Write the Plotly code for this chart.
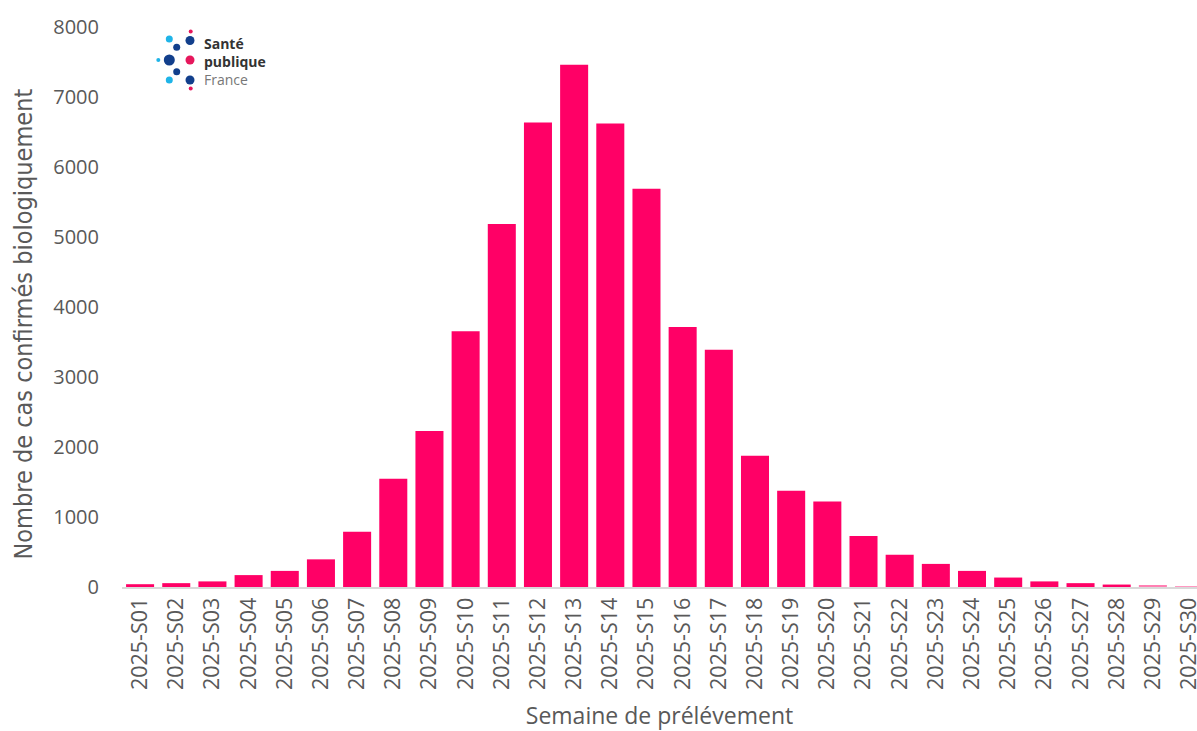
import plotly.graph_objects as go

weeks = [f"2025-S{i:02d}" for i in range(1, 31)]
cases = [40, 55, 80, 170, 230, 395, 790, 1545, 2230, 3655,
         5185, 6635, 7460, 6620, 5690, 3715, 3390, 1875, 1375, 1220,
         730, 460, 330, 230, 135, 80, 55, 35, 25, 10]
bar_colors = ["#FF0066"] * 28 + ["#FF80B3", "#FF99C2"]
y_ticks = [0, 1000, 2000, 3000, 4000, 5000, 6000, 7000, 8000]

W, H = 1197, 731
L, T, B = 122, 27, 144
TXT = "#595959"
PW, PH = W - L, H - T - B


def px_x(p):
    return (p - L) / PW


def px_y(p):
    return (H - B - p) / PH


fig = go.Figure()
fig.add_trace(go.Bar(x=weeks, y=cases, marker=dict(color=bar_colors, line=dict(width=0)),
                     showlegend=False, hoverinfo="x+y"))

# Santé publique France logo (decorative), in pixel coordinates on an overlay axis
logo_dots = [
    (190.7, 31.5, 4, "#E6175C"),
    (169.3, 39, 7, "#1FB4E8"),
    (190, 40.5, 9, "#123F8C"),
    (176.7, 47.3, 7, "#123F8C"),
    (158.3, 60, 4, "#1FB4E8"),
    (169.3, 60, 11, "#123F8C"),
    (190, 60, 9, "#E6175C"),
    (176.7, 71.7, 7, "#123F8C"),
    (169.3, 80, 7, "#1FB4E8"),
    (190, 80, 9, "#123F8C"),
    (190.7, 88.5, 4, "#E6175C"),
]
fig.add_trace(go.Scatter(
    x=[d[0] for d in logo_dots], y=[d[1] for d in logo_dots],
    mode="markers", xaxis="x2", yaxis="y2", hoverinfo="skip", showlegend=False,
    marker=dict(size=[d[2] for d in logo_dots], color=[d[3] for d in logo_dots],
                opacity=1, line=dict(width=0)),
    cliponaxis=False,
))
fig.add_annotation(
    x=px_x(202), y=px_y(61.5), xref="paper", yref="paper",
    text="<b>Santé</b><br><b>publique</b><br><span style='color:#777777'>France</span>",
    showarrow=False, xanchor="left", yanchor="middle", align="left",
    font=dict(family="Open Sans", size=14, color="#333333"),
)

# y-axis title placed as a rotated text (its centre sits slightly below the plot centre)
fig.add_annotation(
    x=px_x(23), y=px_y(324.5), xref="paper", yref="paper",
    text="Nombre de cas confirmés biologiquement", textangle=-90,
    showarrow=False, xanchor="center", yanchor="middle",
    font=dict(family="Liberation Sans Narrow, DejaVu Sans Condensed, sans-serif", size=25, color=TXT),
)

fig.update_layout(
    width=W, height=H,
    margin=dict(l=L, r=0, t=T, b=B, autoexpand=False),
    paper_bgcolor="white", plot_bgcolor="white",
    bargap=0.225,
    font=dict(family="Open Sans", color=TXT),
    xaxis=dict(
        range=[-0.5, 29.22], tickangle=-90, showgrid=False, zeroline=False,
        showline=True, linecolor="#d9d9d9", linewidth=2, ticks="",
        tickfont=dict(family="Open Sans", size=21.5, color=TXT),
        title=dict(text="Semaine de prélévement", standoff=21,
                   font=dict(family="Open Sans", size=23, color=TXT)),
        automargin=False,
    ),
    yaxis=dict(
        range=[0, 8000], tickvals=y_ticks, showgrid=False, zeroline=False,
        showline=False, ticks="", ticklabelstandoff=22,
        tickfont=dict(family="Open Sans", size=20, color=TXT),
        automargin=False,
    ),
    xaxis2=dict(overlaying="x", range=[L, W], visible=False, domain=[0, 1]),
    yaxis2=dict(overlaying="y", range=[H - B, T], visible=False),
)

fig.write_html("out.html")
